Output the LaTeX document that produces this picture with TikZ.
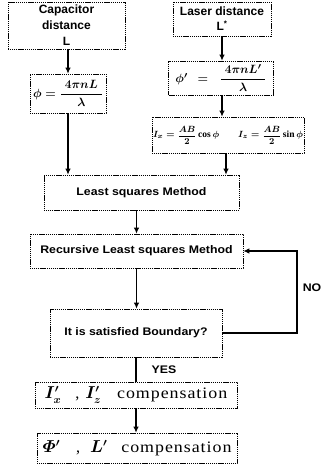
\documentclass[tikz,border=0pt]{standalone}
\usepackage{amsmath}
\usepackage{fontspec}
\setmainfont{Liberation Serif}
\newfontfamily\hsans[FakeStretch=1.12]{Liberation Sans}
\newfontfamily\plainsans{Liberation Sans}
\newfontfamily\compfont[FakeStretch=1.12,LetterSpace=6]{Liberation Serif}
\usetikzlibrary{arrows.meta}
\begin{document}
\begin{tikzpicture}[x=1pt,y=-1pt,
  box/.style={draw, dash pattern=on 1.2pt off 0.7pt, line width=0.6pt, inner sep=1pt, align=center},
  flow/.style={line width=1.3pt, -{Latex[length=6pt,width=5.5pt]}},
  plainline/.style={line width=1.3pt},
  lbl/.style={font=\hsans\bfseries\fontsize{11}{13}\selectfont}]
\useasboundingbox (0,0) rectangle (328,465);

\node[box, minimum width=117pt, minimum height=47pt, font=\plainsans\bfseries\fontsize{12}{16}\selectfont] (cap) at (66.5,25.5) {Capacitor\\distance\\L};
\node[box, minimum width=76pt, minimum height=39pt, font=\fontsize{13}{15}\selectfont\boldmath] (phi) at (68,93.5) {$\phi=\dfrac{\;4\pi nL\;}{\lambda}$};

\node[box, minimum width=98pt, minimum height=34pt, font=\plainsans\bfseries\fontsize{12}{15}\selectfont] (laser) at (222,19) {Laser distance\\L\textsuperscript{*}};
\node[box, minimum width=105pt, minimum height=34pt, font=\fontsize{13}{15}\selectfont\boldmath] (phip) at (221,78) {$\phi'\;\,=\;\;\dfrac{\;4\pi nL'\;}{\lambda}$};
\node[box, minimum width=152pt, minimum height=36pt, font=\fontsize{9.5}{11}\selectfont\boldmath] (form) at (228,135) {$I_x=\dfrac{AB}{2}\cos\phi\qquad I_z=\dfrac{AB}{2}\sin\phi$};

\node[box, minimum width=195pt, minimum height=35pt, lbl] (lsm) at (141.5,192.5) {Least squares Method};
\node[box, minimum width=213pt, minimum height=34pt, lbl] (rlsm) at (136.5,251) {Recursive Least squares Method};
\node[box, minimum width=172pt, minimum height=48pt, lbl] (bnd) at (136,333) {It is satisfied Boundary?};

\node[box, minimum width=202pt, minimum height=26pt, font=\fontsize{16}{18}\selectfont\boldmath] (c1) at (136,395) {$I'_x$\hspace{14pt},\hspace{6pt}$I'_z$\hspace{16pt}{\compfont compensation}};
\node[box, minimum width=200pt, minimum height=30pt, font=\fontsize{16}{18}\selectfont\boldmath] (c2) at (137,448) {$\varPhi'$\hspace{16pt},\hspace{10pt}$L'$\hspace{14pt}{\compfont compensation}};

\node[lbl] (no) at (312,288) {NO};
\node[lbl] (yes) at (164,370) {YES};

\draw[flow] (phi.north |- cap.south) -- (phi.north);
\draw[flow] (phi.south) -- (phi.south |- lsm.north);
\draw[flow] (laser.south) -- (laser.south |- phip.north);
\draw[flow] (laser.south |- phip.south) -- (laser.south |- form.north);
\draw[flow] ([xshift=-2pt]form.south) -- ([xshift=-2pt]form.south |- lsm.north);
\draw[flow] (rlsm.north |- lsm.south) -- (rlsm.north);
\draw[flow] (rlsm.south) -- (rlsm.south |- bnd.north);
\draw[plainline] (bnd.south) -- (bnd.south |- c1.north);
\draw[flow] (c1.south) -- (c1.south |- c2.north);
\coordinate (fb) at (297,300);
\draw[flow, line width=1.1pt] (bnd.east) -- (bnd.east -| fb) -- (rlsm.east -| fb) -- (rlsm.east);
\end{tikzpicture}
\end{document}
